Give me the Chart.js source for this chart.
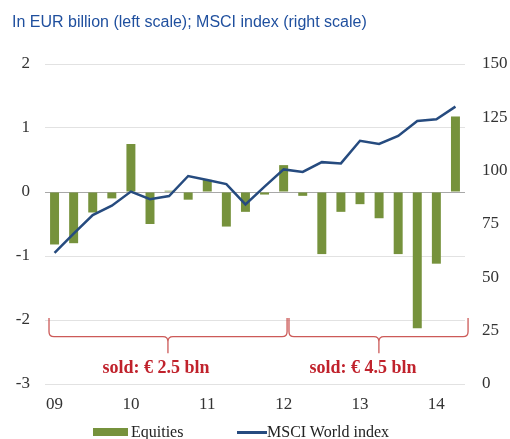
<!DOCTYPE html>
<html>
<head>
<meta charset="utf-8">
<script src="https://cdn.jsdelivr.net/npm/chart.js@4.4.1/dist/chart.umd.min.js"></script>
<style>
  body { margin: 0; background: #fff; }
  #wrap { position: relative; width: 510px; height: 439px; }
  #title {
    position: absolute; left: 12px; top: 12px; white-space: nowrap;
    font: 16px "Liberation Sans", Arial, sans-serif; line-height: 20px; color: #1f4f9e;
  }
  .leg { position: absolute; top: 423px; font: 16px "Liberation Serif", "Times New Roman", serif; line-height: 18px; color: #222; white-space: nowrap; }
  .sw { position: absolute; }
</style>
</head>
<body>
<div id="wrap">
  <canvas id="chart" width="510" height="439"></canvas>
  <div id="title">In EUR billion (left scale); MSCI index (right scale)</div>
  <div class="sw" style="left:93px; top:428px; width:35px; height:8px; background:#76923c;"></div>
  <div class="leg" style="left:131px;">Equities</div>
  <div class="sw" style="left:237px; top:431px; width:30px; height:2.5px; background:#264b7f;"></div>
  <div class="leg" style="left:267px;">MSCI World index</div>
</div>
<script>
// quarterly data, 2009 Q1 - 2014 Q2
const quarters = [
  '09 Q1', '09 Q2', '09 Q3', '09 Q4',
  '10 Q1', '10 Q2', '10 Q3', '10 Q4',
  '11 Q1', '11 Q2', '11 Q3', '11 Q4',
  '12 Q1', '12 Q2', '12 Q3', '12 Q4',
  '13 Q1', '13 Q2', '13 Q3', '13 Q4',
  '14 Q1', '14 Q2'
];
// net purchases of equities, EUR bn (left scale)
const equities = [
  -0.82, -0.80, -0.32, -0.10,
  0.75, -0.50, 0.02, -0.12,
  0.19, -0.54, -0.31, -0.04,
  0.42, -0.06, -0.97, -0.31,
  -0.19, -0.41, -0.97, -2.13,
  -1.12, 1.18
];
// MSCI World index (right scale)
const msci = [
  61.5, 70.5, 79.2, 83.6,
  90.2, 86.6, 88.1, 97.5,
  95.6, 93.7, 84.2, 92.5,
  100.6, 99.4, 104.0, 103.4,
  114.0, 112.5, 116.3, 123.3,
  124.1, 130.0
];
const leftTicks = [2, 1, 0, -1, -2, -3];
const rightTicks = [150, 125, 100, 75, 50, 25, 0];
const soldLabels = ['sold: € 2.5 bln', 'sold: € 4.5 bln'];

// brace annotations under the two periods (in category units)
const braces = [
  { from: -0.29, to: 12.18, tip: 5.94, text: 5.31, label: soldLabels[0] },
  { from: 12.28, to: 21.66, tip: 16.99, text: 16.16, label: soldLabels[1] }
];

const serif = '"Liberation Serif", "Times New Roman", serif';

const bracePlugin = {
    id: 'braces',
    afterDatasetsDraw(chart) {
        const { ctx, scales: { x, y } } = chart;
        const yTop = y.getPixelForValue(-1.97);
        const yMid = y.getPixelForValue(-2.26);
        const yTip = y.getPixelForValue(-2.52);
        const yText = y.getPixelForValue(-2.75);
        const r = 5;
        ctx.save();
        braces.forEach(b => {
            const x0 = x.getPixelForValue(b.from);
            const x1 = x.getPixelForValue(b.to);
            const xt = x.getPixelForValue(b.tip);
            ctx.beginPath();
            ctx.moveTo(x0, yTop);
            ctx.lineTo(x0, yMid - r);
            ctx.quadraticCurveTo(x0, yMid, x0 + r, yMid);
            ctx.lineTo(xt - r, yMid);
            ctx.quadraticCurveTo(xt, yMid, xt, yMid + r);
            ctx.lineTo(xt, yTip);
            ctx.moveTo(xt, yMid + r);
            ctx.quadraticCurveTo(xt, yMid, xt + r, yMid);
            ctx.lineTo(x1 - r, yMid);
            ctx.quadraticCurveTo(x1, yMid, x1, yMid - r);
            ctx.lineTo(x1, yTop);
            ctx.strokeStyle = '#cc5a58';
            ctx.lineWidth = 1.3;
            ctx.stroke();

            ctx.fillStyle = '#c0222c';
            ctx.font = 'bold 18px ' + serif;
            ctx.textAlign = 'center';
            ctx.textBaseline = 'middle';
            ctx.fillText(b.label, x.getPixelForValue(b.text), yText);
        });
        ctx.restore();
    }
};

new Chart(document.getElementById('chart'), {
    type: 'bar',
    data: {
        labels: quarters,
        datasets: [
            {
                type: 'line',
                label: 'MSCI World index',
                data: msci,
                yAxisID: 'y1',
                borderColor: '#264b7f',
                borderWidth: 2.5,
                pointRadius: 0,
                tension: 0,
                order: 0
            },
            {
                label: 'Equities',
                data: equities,
                yAxisID: 'y',
                backgroundColor: '#76923c',
                barPercentage: 0.47,
                categoryPercentage: 1,
                order: 1
            }
        ]
    },
    options: {
        responsive: false,
        animation: false,
        layout: { padding: { top: 64, bottom: 25, left: 0, right: 0 } },
        plugins: {
            legend: { display: false },
            title: { display: false },
            tooltip: { enabled: false }
        },
        scales: {
            x: {
                grid: { display: false, drawTicks: false },
                border: { display: false },
                ticks: {
                    autoSkip: false,
                    maxRotation: 0,
                    padding: 10,
                    color: '#333',
                    font: { family: serif, size: 17 },
                    callback: function (v) {
                        const q = quarters[v];
                        return q.endsWith('Q1') ? q.slice(0, 2) : '';
                    }
                },
                afterFit: s => { s.height = 30; }
            },
            y: {
                position: 'left',
                min: -3,
                max: 2,
                afterBuildTicks: s => { s.ticks = leftTicks.map(v => ({ value: v })); },
                grid: {
                    drawTicks: false,
                    color: c => c.tick && c.tick.value === 0 ? '#a8a8a8' : '#e2e2e2',
                    lineWidth: 1
                },
                border: { display: false },
                ticks: { padding: 15, color: '#333', font: { family: serif, size: 17 } },
                afterFit: s => { s.width = 45; }
            },
            y1: {
                position: 'right',
                min: 0,
                max: 150,
                afterBuildTicks: s => { s.ticks = rightTicks.map(v => ({ value: v })); },
                grid: { display: false, drawTicks: false },
                border: { display: false },
                ticks: { padding: 17, color: '#333', font: { family: serif, size: 17 } },
                afterFit: s => { s.width = 45; }
            }
        }
    },
    plugins: [bracePlugin]
});
</script>
</body>
</html>
